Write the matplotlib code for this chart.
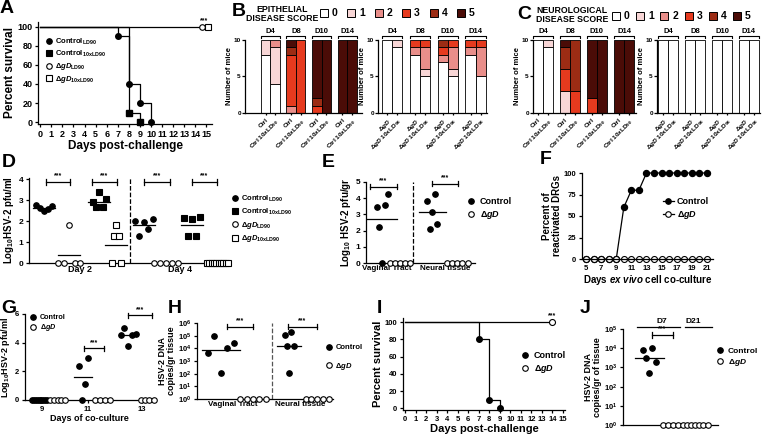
import numpy as np
import matplotlib
matplotlib.use('Agg')
import matplotlib.pyplot as plt
from matplotlib.patches import Rectangle
from matplotlib.lines import Line2D
from matplotlib.ticker import NullLocator, LogLocator

plt.rcParams['font.family'] = ['Liberation Sans', 'DejaVu Sans']
plt.rcParams['font.weight'] = 'bold'
plt.rcParams['axes.labelweight'] = 'bold'
plt.rcParams['mathtext.fontset'] = 'custom'
plt.rcParams['mathtext.rm'] = 'Liberation Sans:bold'
plt.rcParams['mathtext.it'] = 'Liberation Sans:italic:bold'
plt.rcParams['mathtext.bf'] = 'Liberation Sans:bold'
plt.rcParams['axes.linewidth'] = 0.9

# ---------------- data ----------------
# A: survival
a_ctrl_ld90_days = [0, 7, 8, 9, 10]
a_ctrl_ld90_surv = [100, 90, 40, 20, 0]
a_ctrl_10x_days = [0, 8, 9]
a_ctrl_10x_surv = [100, 10, 0]
a_dgd_ld90_days = [0, 14.6]
a_dgd_ld90_surv = [100, 100]
a_dgd_10x_days = [0, 15.1]
a_dgd_10x_surv = [100, 100]

# B, C: number of mice with score 0..5, per day [first bar, second bar]
score_days = ['D4', 'D8', 'D10', 'D14']
score_colors = ['#ffffff', '#f8d6d6', '#e98e8a', '#e63a1e', '#9c2c14', '#4b0c07']
epi_ctrl = [[[8, 2, 0, 0, 0, 0], [4, 5, 1, 0, 0, 0]],
            [[0, 0, 1, 7, 1, 1], [0, 0, 0, 10, 0, 0]],
            [[0, 0, 0, 1, 1, 8], [0, 0, 0, 0, 0, 10]],
            [[0, 0, 0, 0, 0, 10], [0, 0, 0, 0, 0, 10]]]
epi_dgd = [[[10, 0, 0, 0, 0, 0], [9, 1, 0, 0, 0, 0]],
           [[8, 0, 1, 1, 0, 0], [5, 1, 3, 1, 0, 0]],
           [[7, 0, 1, 1, 1, 0], [5, 1, 3, 1, 0, 0]],
           [[8, 0, 1, 1, 0, 0], [5, 0, 4, 1, 0, 0]]]
neuro_ctrl = [[[10, 0, 0, 0, 0, 0], [9, 1, 0, 0, 0, 0]],
              [[0, 3, 0, 3, 3, 1], [0, 0, 0, 3, 7, 0]],
              [[0, 0, 0, 2, 0, 8], [0, 0, 0, 0, 0, 10]],
              [[0, 0, 0, 0, 0, 10], [0, 0, 0, 0, 0, 10]]]
neuro_dgd = [[[10, 0, 0, 0, 0, 0], [10, 0, 0, 0, 0, 0]] for _ in range(4)]
ctrl_bar_labels = ['Ctrl', 'Ctrl 10xLD$_{\\mathregular{90}}$']
dgd_bar_labels = ['Δ$\\mathit{gD}$', 'Δ$\\mathit{gD}$ 10xLD$_{\\mathregular{90}}$']

# D: log10 pfu/ml vaginal wash
d_d2_ctrl_ld90 = [2.75, 2.6, 2.5, 2.55, 2.7]
d_d2_dgd_ld90 = [0, 0, 1.8, 0, 0]
d_d2_ctrl_10x = [2.9, 2.65, 3.4, 2.65, 3.05]
d_d2_dgd_10x = [0, 1.3, 1.8, 1.3, 0]
d_d4_ctrl_ld90 = [2.0, 1.3, 1.95, 1.6, 2.1]
d_d4_dgd_ld90 = [0, 0, 0, 0, 0]
d_d4_ctrl_10x = [2.15, 1.3, 2.1, 1.3, 2.2]
d_d4_dgd_10x = [0] * 10

# E: log10 pfu/gr tissue
e_vag_ctrl = [3.45, 2.2, 0, 3.6, 4.25]
e_vag_dgd = [0, 0, 0, 0, 0]
e_neu_ctrl = [3.85, 2.1, 3.15, 4.25, 2.4]
e_neu_dgd = [0, 0, 0, 0, 0]

# F: percent reactivated DRGs
f_days = list(range(5, 22))
f_ctrl = [0, 0, 0, 0, 0, 60, 80, 80, 100, 100, 100, 100, 100, 100, 100, 100, 100]
f_dgd = [0] * 17

# G: log10 pfu/ml co-culture
g_d9_ctrl = [0] * 9
g_d9_dgd = [0] * 5
g_d11_ctrl = [2.35, 0, 1.1, 2.95]
g_d11_dgd = [0] * 4
g_d13_ctrl = [4.55, 5.05, 3.8, 4.55, 4.6]
g_d13_dgd = [0] * 4

# H: log10 HSV-2 DNA copies/gr
h_vag_ctrl = [3.65, 5.0, 2.05, 4.0, 4.45]
h_vag_dgd = [0] * 5
h_neu_ctrl = [5.08, 4.15, 2.05, 5.3, 4.15]
h_neu_dgd = [0] * 5

# I: survival
i_ctrl_days = [0, 7, 8, 9]
i_ctrl_surv = [100, 80, 10, 0]
i_dgd_days = [0, 14]
i_dgd_surv = [100, 100]

# J: log10 DNA copies/gr
j_d7_ctrl = [3.9, 3.5, 2.7, 4.0, 3.3]
j_d7_dgd = [0] * 4
j_d21_dgd = [0] * 7

# ---------------- figure ----------------
W, H = 764, 434
fig = plt.figure(figsize=(W / 100, H / 100), dpi=100)


def px_axes(x0, y0, x1, y1):
    return fig.add_axes([x0 / W, 1 - y1 / H, (x1 - x0) / W, (y1 - y0) / H])


def style(ax, fs=6):
    ax.spines['top'].set_visible(False)
    ax.spines['right'].set_visible(False)
    ax.tick_params(labelsize=fs, length=2.5, width=0.9, pad=1.5)


def letter(x, y, s):
    fig.text(x / W, 1 - y / H, s, fontsize=14, weight='bold', va='top', ha='left')


def dots(ax, xc, vals, marker='o', filled=True, spread=0.4, ms=4, mean=True, half=0.55, log=False):
    vals = np.array(vals, dtype=float)
    n = len(vals)
    xs = xc + (np.linspace(-spread, spread, n) if n > 1 else np.zeros(1))
    ys = 10 ** vals if log else vals
    ax.plot(xs, ys, ls='', marker=marker, ms=ms, mfc='k' if filled else 'w', mec='k',
            mew=0.8, clip_on=False, zorder=3)
    if mean:
        m = np.mean(vals)
        ax.plot([xc - half, xc + half], [10 ** m if log else m] * 2, color='k', lw=0.9, zorder=2)


def bracket(ax, x0, x1, y, lo, hi, fs=5):
    ax.plot([x0, x1], [y, y], color='k', lw=0.9, clip_on=False)
    ax.plot([x0, x0], [lo, hi], color='k', lw=0.9, clip_on=False)
    ax.plot([x1, x1], [lo, hi], color='k', lw=0.9, clip_on=False)
    ax.text((x0 + x1) / 2, hi, '***', ha='center', va='bottom', fontsize=fs)


def legend_at(ax, handles, labels, x, y, fs=6, spacing=0.3):
    ax.legend(handles, labels, loc='upper left', bbox_to_anchor=(x / W, 1 - y / H),
              bbox_transform=fig.transFigure, frameon=False, fontsize=fs,
              handletextpad=0.3, labelspacing=spacing, borderpad=0, handlelength=1.2,
              borderaxespad=0)


def h_circle(filled=True, line=False):
    return Line2D([], [], marker='o', ls='-' if line else '', color='k', ms=4,
                  mfc='k' if filled else 'w', mec='k', mew=0.8, lw=0.9)


def h_square(filled=True):
    return Line2D([], [], marker='s', ls='', ms=3.8, mfc='k' if filled else 'w', mec='k', mew=0.8)


dgd_lab = 'Δ$\\mathit{gD}$'

# ---------------- A ----------------
ax = px_axes(38, 22, 212, 124)
style(ax, 6.5)
ax.step(a_ctrl_ld90_days, a_ctrl_ld90_surv, where='post', color='k', lw=0.9)
ax.step(a_ctrl_10x_days, a_ctrl_10x_surv, where='post', color='k', lw=0.9)
ax.plot(a_dgd_ld90_days, a_dgd_ld90_surv, color='k', lw=0.9)
ax.plot(a_ctrl_ld90_days[1:], a_ctrl_ld90_surv[1:], 'o', color='k', ms=4, clip_on=False)
ax.plot(a_ctrl_10x_days[1:], a_ctrl_10x_surv[1:], 's', color='k', ms=3.8, clip_on=False)
ax.plot(a_dgd_10x_days[-1], a_dgd_10x_surv[-1], 's', mfc='w', mec='k', mew=0.8, ms=3.8, clip_on=False)
ax.plot(a_dgd_ld90_days[-1], a_dgd_ld90_surv[-1], 'o', mfc='w', mec='k', mew=0.8, ms=4, clip_on=False)
ax.text(14.8, 103, '***', ha='center', va='bottom', fontsize=5)
ax.set_xlim(-0.2, 15.5)
ax.set_ylim(-2, 105)
ax.set_xticks(range(16))
ax.set_yticks(range(0, 101, 20))
ax.set_xlabel('Days post-challenge', fontsize=8.5, labelpad=1)
ax.set_ylabel('Percent survival', fontsize=8.5, labelpad=1)
legend_at(ax, [h_circle(), h_square(), h_circle(False), h_square(False)],
          ['Control$_{\\mathregular{LD90}}$', 'Control$_{\\mathregular{10xLD90}}$',
           dgd_lab + '$_{\\mathregular{LD90}}$', dgd_lab + '$_{\\mathregular{10xLD90}}$'],
          44, 37, fs=5.5, spacing=0.25)
letter(0, 0, 'A')


# ---------------- B / C ----------------
def score_panel(ax, counts, labels, xlim):
    style(ax, 4.6)
    for g, day in enumerate(counts):
        for k, bar in enumerate(day):
            x = g * 2.7 + k
            bottom = 0
            for s, c in enumerate(bar):
                if c:
                    ax.bar(x, c, width=1.0, bottom=bottom, color=score_colors[s],
                           edgecolor='k', linewidth=0.6)
                    bottom += c
        x0, x1 = g * 2.7 - 0.5, g * 2.7 + 1.5
        ax.plot([x0, x0, x1, x1], [10.3, 10.6, 10.6, 10.3], color='k', lw=0.8, clip_on=False)
        ax.text(g * 2.7 + 0.5, 10.75, score_days[g], ha='center', va='bottom', fontsize=5.5)
    ax.set_xticks([g * 2.7 + k for g in range(4) for k in range(2)])
    ax.set_xticklabels(labels * 4, rotation=45, ha='right', rotation_mode='anchor', fontsize=4.6)
    ax.tick_params(axis='x', length=1.5)
    ax.tick_params(axis='y', length=2, pad=1)
    ax.set_ylim(0, 10)
    ax.set_xlim(*xlim)
    ax.set_yticks([0, 5, 10])
    ax.set_ylabel('Number of mice', fontsize=5.5, labelpad=0.5)


ax = px_axes(245, 40, 362, 113)
score_panel(ax, epi_ctrl, ctrl_bar_labels, (-2.16, 10.16))
ax = px_axes(378, 40, 487, 113)
score_panel(ax, epi_dgd, dgd_bar_labels, (-0.87, 9.7))
ax = px_axes(533, 40, 636, 113)
score_panel(ax, neuro_ctrl, ctrl_bar_labels, (-0.5, 9.8))
ax = px_axes(657, 40, 760, 113)
score_panel(ax, neuro_dgd, dgd_bar_labels, (-0.6, 9.7))

fig.text(282 / W, 1 - 14 / H, 'EPITHELIAL\nDISEASE SCORE', ha='center', va='center',
         fontsize=6.3, linespacing=1.1)
fig.text(572 / W, 1 - 15 / H, 'NEUROLOGICAL\nDISEASE SCORE', ha='center', va='center',
         fontsize=6.3, linespacing=1.1)


def score_legend(x0, step, ytop):
    for i in range(6):
        x = x0 + step * i
        fig.patches.append(Rectangle((x / W, 1 - (ytop + 8) / H), 8 / W, 8 / H,
                                     transform=fig.transFigure, facecolor=score_colors[i],
                                     edgecolor='k', lw=0.7))
        fig.text((x + 12) / W, 1 - (ytop + 4) / H, str(i), va='center', fontsize=7.5)


score_legend(320, 27.4, 9)
score_legend(612, 24.2, 12)
letter(232, 3, 'B')
letter(517, 6, 'C')

# ---------------- D ----------------
ax = px_axes(29, 178, 230, 263)
style(ax, 6)
dots(ax, 0.75, d_d2_ctrl_ld90, 'o', True, 0.4)
dots(ax, 2.0, d_d2_dgd_ld90, 'o', False, 0.55)
dots(ax, 3.5, d_d2_ctrl_10x, 's', True, 0.33, ms=3.8)
dots(ax, 4.35, d_d2_dgd_10x, 's', False, 0.22, ms=3.8)
dots(ax, 5.72, d_d4_ctrl_ld90, 'o', True, 0.45)
dots(ax, 6.8, d_d4_dgd_ld90, 'o', False, 0.6)
dots(ax, 8.1, d_d4_ctrl_10x, 's', True, 0.4, ms=3.8)
dots(ax, 9.38, d_d4_dgd_10x, 's', False, 0.52, ms=3.8)
ax.axvline(5.02, ls='--', color='k', lw=0.9, ymax=1.0)
for x0, x1 in [(0.85, 2.05), (3.13, 4.38), (5.72, 7.0), (8.1, 9.35)]:
    bracket(ax, x0, x1, 3.85, 3.72, 3.98)
ax.set_xlim(0, 10)
ax.set_ylim(0, 4.05)
ax.set_yticks(range(5))
ax.set_xticks([2.55, 7.5])
ax.set_xticklabels(['Day 2', 'Day 4'], fontsize=6.5)
ax.tick_params(axis='x', length=0)
ax.set_ylabel('Log$_{10}$HSV-2 pfu/ml', fontsize=7, labelpad=2)
legend_at(ax, [h_circle(), h_square(), h_circle(False), h_square(False)],
          ['Control$_{\\mathregular{LD90}}$', 'Control$_{\\mathregular{10xLD90}}$',
           dgd_lab + '$_{\\mathregular{LD90}}$', dgd_lab + '$_{\\mathregular{10xLD90}}$'],
          230, 194, fs=5.5, spacing=0.35)
letter(2, 154, 'D')

# ---------------- E ----------------
ax = px_axes(366, 182, 475, 263)
style(ax, 6)
dots(ax, 1.6, e_vag_ctrl, 'o', True, 0.55, half=1.5)
dots(ax, 3.4, e_vag_dgd, 'o', False, 1.0, mean=False)
dots(ax, 6.6, e_neu_ctrl, 'o', True, 0.5, half=1.35)
dots(ax, 9.1, e_neu_dgd, 'o', False, 1.05, mean=False)
ax.axvline(4.7, ls='--', color='k', lw=0.9)
bracket(ax, 0.4, 3.1, 4.72, 4.57, 4.87)
bracket(ax, 6.6, 9.2, 4.9, 4.75, 5.05)
ax.set_xlim(0, 10.9)
ax.set_ylim(0, 5)
ax.set_yticks(range(6))
ax.set_xticks([2.1, 7.9])
ax.set_xticklabels(['Vaginal Tract', 'Neural tissue'], fontsize=5.8)
ax.tick_params(axis='x', length=0)
ax.set_ylabel('Log$_{10}$ HSV-2 pfu/gr', fontsize=7, labelpad=2)
legend_at(ax, [h_circle(), h_circle(False)], ['Control', dgd_lab], 466, 197, fs=6.5)
letter(322, 154, 'E')

# ---------------- F ----------------
ax = px_axes(582, 173, 713, 259)
style(ax, 5.5)
ax.plot(f_days, f_ctrl, 'o-', color='k', ms=4.3, lw=0.9, clip_on=False)
ax.plot(f_days, f_dgd, 'o-', color='k', mfc='w', mec='k', mew=0.8, ms=4.3, lw=0.9, clip_on=False)
ax.set_xlim(4.47, 21.8)
ax.set_ylim(0, 100)
ax.set_xticks(range(5, 22, 2))
ax.set_yticks([0, 25, 50, 75, 100])
ax.set_xlabel('Days $\\mathit{ex\\ vivo}$ cell co-culture', fontsize=7, labelpad=1)
ax.set_ylabel('Percent of\nreactivated DRGs', fontsize=7, labelpad=1, linespacing=1.0)
legend_at(ax, [h_circle(True, True), h_circle(False, True)], ['Control', dgd_lab], 663, 197, fs=6.5)
letter(540, 151, 'F')

# ---------------- G ----------------
ax = px_axes(25, 314, 153, 400)
style(ax, 5.5)
dots(ax, 1.45, g_d9_ctrl, 'o', True, 0.75, mean=False)
dots(ax, 3.25, g_d9_dgd, 'o', False, 0.75, mean=False)
dots(ax, 5.8, g_d11_ctrl, 'o', True, 0.45, half=0.9)
dots(ax, 7.7, g_d11_dgd, 'o', False, 0.75, mean=False)
dots(ax, 10.3, g_d13_ctrl, 'o', True, 0.75, half=0.9)
dots(ax, 12.2, g_d13_dgd, 'o', False, 0.65, mean=False)
bracket(ax, 5.9, 7.9, 3.6, 3.42, 3.78)
bracket(ax, 10.3, 12.7, 5.9, 5.72, 6.08)
ax.set_xlim(0, 12.8)
ax.set_ylim(0, 6)
ax.set_yticks([0, 2, 4, 6])
ax.set_xticks([1.7, 6.3, 11.7])
ax.set_xticklabels(['9', '11', '13'])
ax.set_xlabel('Days of co-culture', fontsize=6.5, labelpad=1)
ax.set_ylabel('Log$_{10}$HSV-2 pfu/ml', fontsize=6.5, labelpad=2)
legend_at(ax, [h_circle(), h_circle(False)], ['Control', dgd_lab], 29, 314, fs=5.2, spacing=0.15)
letter(1, 300, 'G')

# ---------------- H ----------------
ax = px_axes(197, 323, 333, 399)
style(ax, 5.5)
ax.set_yscale('log')
dots(ax, 2.4, h_vag_ctrl, 'o', True, 1.3, half=1.9, log=True)
dots(ax, 5.6, h_vag_dgd, 'o', False, 1.25, mean=False, log=True)
dots(ax, 9.2, h_neu_ctrl, 'o', True, 0.45, half=1.2, log=True)
dots(ax, 12.0, h_neu_dgd, 'o', False, 1.15, mean=False, log=True)
ax.axvline(7.5, ls='--', color='#555555', lw=0.9)
bracket(ax, 3.0, 5.6, 10 ** 5.7, 10 ** 5.5, 10 ** 5.9)
bracket(ax, 9.1, 12.0, 10 ** 5.7, 10 ** 5.5, 10 ** 5.9)
ax.set_xlim(0, 13.6)
ax.set_ylim(1, 1e6)
ax.yaxis.set_major_locator(LogLocator(base=10, numticks=10))
ax.yaxis.set_minor_locator(NullLocator())
ax.set_xticks([3.6, 10.3])
ax.set_xticklabels(['Vaginal Tract', 'Neural tissue'], fontsize=5.8)
ax.tick_params(axis='x', length=0)
ax.set_ylabel('HSV-2 DNA\ncopies/gr tissue', fontsize=6.5, labelpad=1, linespacing=1.0)
legend_at(ax, [h_circle(), h_circle(False)], ['Control', dgd_lab], 324, 344, fs=5.5, spacing=1.2)
letter(168, 300, 'H')

# ---------------- I ----------------
ax = px_axes(403, 318, 565, 410)
style(ax, 5.5)
ax.step(i_ctrl_days, i_ctrl_surv, where='post', color='k', lw=0.9)
ax.plot(i_dgd_days, i_dgd_surv, color='k', lw=0.9)
ax.plot(i_ctrl_days[1:], i_ctrl_surv[1:], 'o', color='k', ms=4, clip_on=False)
ax.plot(i_dgd_days[-1], i_dgd_surv[-1], 'o', mfc='w', mec='k', mew=0.8, ms=4.3, clip_on=False)
ax.text(14, 104, '***', ha='center', va='bottom', fontsize=5)
ax.set_xlim(-0.2, 15.2)
ax.set_ylim(-2, 105)
ax.set_xticks(range(16))
ax.set_yticks(range(0, 101, 20))
ax.set_xlabel('Days post-challenge', fontsize=8, labelpad=1)
ax.set_ylabel('Percent survival', fontsize=8, labelpad=1)
legend_at(ax, [h_circle(), h_circle(False)], ['Control', dgd_lab], 520, 351, fs=6.5)
letter(377, 300, 'I')

# ---------------- J ----------------
ax = px_axes(623, 329, 718, 425)
style(ax, 5.5)
ax.set_yscale('log')
dots(ax, 2.6, j_d7_ctrl, 'o', True, 0.65, half=1.45, log=True)
dots(ax, 4.7, j_d7_dgd, 'o', False, 0.75, mean=False, log=True)
dots(ax, 7.2, j_d21_dgd, 'o', False, 1.25, mean=False, log=True)
bracket(ax, 2.9, 5.0, 10 ** 4.7, 10 ** 4.55, 10 ** 4.85)
ax.plot([1.4, 5.7], [10 ** 5.1] * 2, color='k', lw=0.9, clip_on=False)
ax.plot([6.2, 8.9], [10 ** 5.1] * 2, color='k', lw=0.9, clip_on=False)
ax.text(3.9, 10 ** 5.2, 'D7', ha='center', va='bottom', fontsize=6)
ax.text(7.0, 10 ** 5.2, 'D21', ha='center', va='bottom', fontsize=6)
ax.set_xlim(0, 9.5)
ax.set_ylim(1, 1e5)
ax.yaxis.set_major_locator(LogLocator(base=10, numticks=10))
ax.yaxis.set_minor_locator(NullLocator())
ax.set_xticks([])
ax.set_ylabel('HSV-2 DNA\ncopies/gr of tissue', fontsize=6.5, labelpad=1, linespacing=1.0)
legend_at(ax, [h_circle(), h_circle(False)], ['Control', dgd_lab], 715, 347, fs=6)
letter(580, 300, 'J')

fig.savefig('out.png', dpi=100)
